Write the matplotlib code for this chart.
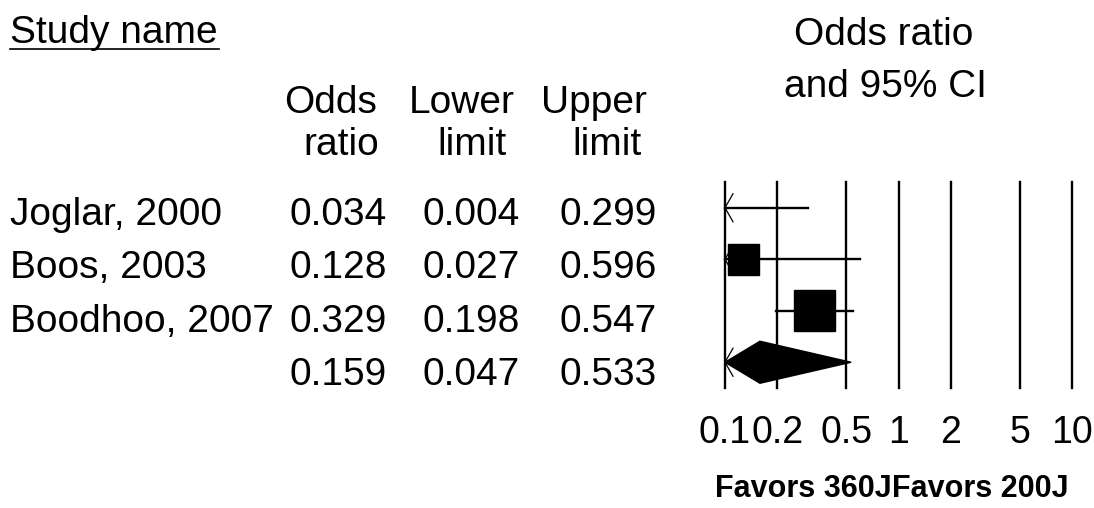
import matplotlib
matplotlib.use("Agg")
import matplotlib.pyplot as plt
from matplotlib.lines import Line2D
from matplotlib.patches import Polygon, Rectangle

plt.rcParams['font.family'] = ['Liberation Sans', 'DejaVu Sans']

# data
studies = ["Joglar, 2000", "Boos, 2003", "Boodhoo, 2007", ""]
odds = [0.034, 0.128, 0.329, 0.159]
lower = [0.004, 0.027, 0.198, 0.047]
upper = [0.299, 0.596, 0.547, 0.533]
box_px = [0, 31, 41]          # square side in pixels (first one off scale)
ticks = [0.1, 0.2, 0.5, 1, 2, 5, 10]
tick_labels = ["0.1", "0.2", "0.5", "1", "2", "5", "10"]

W, H = 1094, 508
fig = plt.figure(figsize=(W / 100, H / 100), dpi=100)

def fx(x):
    return x / W

def fy(y):
    return 1 - y / H

# table text
row_base = [225, 278, 332, 385]
col_right = [387, 520, 657]
for i in range(4):
    fig.text(fx(10), fy(row_base[i]), studies[i], fontsize=28, va='baseline', ha='left')
    for j, vals in enumerate([odds, lower, upper]):
        fig.text(fx(col_right[j]), fy(row_base[i]), "%.3f" % vals[i], fontsize=28,
                 va='baseline', ha='right')

fig.text(fx(10), fy(43), "Study name", fontsize=28, va='baseline', ha='left')
fig.add_artist(Line2D([fx(10), fx(219)], [fy(49), fy(49)], color='black', lw=1.2))

hdr1 = ["Odds", "Lower", "Upper"]
hdr2 = ["ratio", "limit", "limit"]
c1 = [331, 462, 594]
c2 = [341, 472, 607]
for j in range(3):
    fig.text(fx(c1[j]), fy(113), hdr1[j], fontsize=28, va='baseline', ha='center')
    fig.text(fx(c2[j]), fy(155), hdr2[j], fontsize=28, va='baseline', ha='center')

fig.text(fx(884), fy(45), "Odds ratio", fontsize=28, va='baseline', ha='center')
fig.text(fx(885), fy(97), "and 95% CI", fontsize=28, va='baseline', ha='center')

# forest plot axes
ax = fig.add_axes([fx(725), fy(388), fx(1072) - fx(725), (388 - 182) / H])
ax.set_xscale('log')
ax.set_xlim(0.1, 10)
ax.set_ylim(4, 0)
ax.axis('off')

for t in ticks:
    ax.axvline(t, color='black', lw=1.7, clip_on=False)

for t, lab in zip(ticks, tick_labels):
    ax.annotate(lab, xy=(t, 0), xycoords=('data', 'figure fraction'),
                xytext=(t, fy(443)), textcoords=('data', 'figure fraction'),
                fontsize=27, ha='center', va='baseline', annotation_clip=False)

lo_lim = 0.1
px_per_dec = (1072 - 725) / 2.0
unit_y = (388 - 182) / 4.0

def arrow_left(y):
    # open arrow head at left edge when the value is off scale
    dx = 10 ** (8 / px_per_dec)
    ax.plot([lo_lim * dx, lo_lim, lo_lim * dx], [y - 14 / unit_y, y, y + 14 / unit_y],
            color='black', lw=0.9, clip_on=False)

for i in range(3):
    y = i + 0.5
    l = max(lower[i], lo_lim)
    ax.plot([l, upper[i]], [y, y], color='black', lw=1.7, clip_on=False)
    if lower[i] < lo_lim:
        arrow_left(y)
    if odds[i] >= lo_lim:
        s = box_px[i]
        half = 10 ** (s / 2 / px_per_dec)
        ax.add_patch(Rectangle((odds[i] / half, y - s / 2 / unit_y), odds[i] * half - odds[i] / half,
                               s / unit_y, facecolor='black', edgecolor='black', clip_on=False))

# summary diamond
y = 3.5
h = 21 / unit_y
l = max(lower[3], lo_lim)
ax.add_patch(Polygon([(l, y), (odds[3], y - h), (upper[3], y), (odds[3], y + h)],
                     closed=True, facecolor='black', edgecolor='black', clip_on=False))
if lower[3] < lo_lim:
    arrow_left(y)

fig.text(fx(892), fy(497), "Favors 360J", fontsize=22, fontweight='bold', va='baseline', ha='right')
fig.text(fx(892), fy(497), "Favors 200J", fontsize=22, fontweight='bold', va='baseline', ha='left')

fig.savefig("out.png", dpi=100)
